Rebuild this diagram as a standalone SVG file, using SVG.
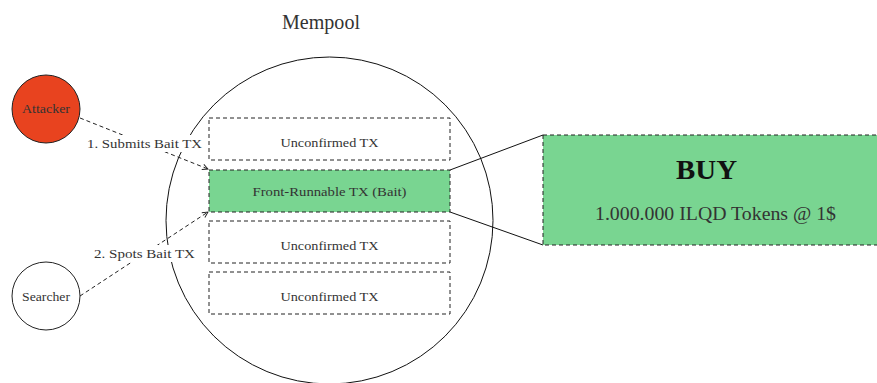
<svg xmlns="http://www.w3.org/2000/svg" width="877" height="383" viewBox="0 0 877 383">
<defs>
<style>
text{font-family:"Liberation Serif","DejaVu Serif",serif;fill:#333;text-anchor:middle;dominant-baseline:central}
.tx{fill:#fff;stroke:#222;stroke-width:1;stroke-dasharray:4,3}
.green{fill:#79d591}
.solid{fill:none;stroke:#111;stroke-width:1}
.dash{fill:none;stroke:#222;stroke-width:1;stroke-dasharray:4,3}
.small{font-size:12.5px}
.lbl{font-size:13px}
</style>
<marker id="arr" viewBox="0 0 10 10" refX="9" refY="5" markerWidth="7" markerHeight="7" orient="auto" markerUnits="userSpaceOnUse">
<path d="M1,1 L9,5 L1,9" fill="none" stroke="#222" stroke-width="1.3"/>
</marker>
</defs>
<rect width="877" height="383" fill="#fff"/>
<g id="mempool">
<circle cx="329.5" cy="220.5" r="163.5" class="solid"/>
<text x="321" y="22" style="font-size:20px" textLength="78" lengthAdjust="spacingAndGlyphs">Mempool</text>
</g>
<g id="tx1"><rect x="209" y="118" width="241" height="42" class="tx"/><text x="329.5" y="143" class="small" textLength="98" lengthAdjust="spacingAndGlyphs">Unconfirmed TX</text></g>
<g id="bait"><rect x="209" y="170" width="241" height="42" class="tx green"/><text x="329.5" y="192" class="small" textLength="154" lengthAdjust="spacingAndGlyphs">Front-Runnable TX (Bait)</text></g>
<g id="tx3"><rect x="209" y="221" width="241" height="42" class="tx"/><text x="329.5" y="246" class="small" textLength="98" lengthAdjust="spacingAndGlyphs">Unconfirmed TX</text></g>
<g id="tx4"><rect x="209" y="272" width="241" height="42" class="tx"/><text x="329.5" y="297" class="small" textLength="98" lengthAdjust="spacingAndGlyphs">Unconfirmed TX</text></g>
<g id="detail">
<rect x="543" y="135" width="340" height="110" class="tx green"/>
<text x="706.5" y="170" style="font-size:27px;font-weight:bold;fill:#111" textLength="61" lengthAdjust="spacingAndGlyphs">BUY</text>
<text x="715.5" y="213" style="font-size:19px" textLength="241" lengthAdjust="spacingAndGlyphs">1.000.000 ILQD Tokens @ 1$</text>
</g>
<g id="attacker"><circle cx="46" cy="109" r="34" fill="#e8431f" stroke="#222" stroke-width="1"/><text x="46" y="109" class="small" textLength="48" lengthAdjust="spacingAndGlyphs">Attacker</text></g>
<g id="searcher"><circle cx="46" cy="296" r="34" fill="#fff" stroke="#222" stroke-width="1"/><text x="46" y="297" class="small" textLength="48" lengthAdjust="spacingAndGlyphs">Searcher</text></g>
<g id="connectors">
<line x1="450" y1="170" x2="543" y2="135" class="solid"/>
<line x1="450" y1="212" x2="543" y2="245" class="solid"/>
<line x1="80" y1="118" x2="208" y2="169" class="dash" marker-end="url(#arr)"/>
<line x1="80" y1="296" x2="208" y2="212" class="dash" marker-end="url(#arr)"/>
<rect x="85" y="135" width="119" height="17" fill="#fff"/>
<text x="144.5" y="143.5" class="lbl" textLength="115" lengthAdjust="spacingAndGlyphs">1. Submits Bait TX</text>
<rect x="91" y="245" width="107" height="17" fill="#fff"/>
<text x="144.5" y="253.5" class="lbl" textLength="101" lengthAdjust="spacingAndGlyphs">2. Spots Bait TX</text>
</g>
</svg>
